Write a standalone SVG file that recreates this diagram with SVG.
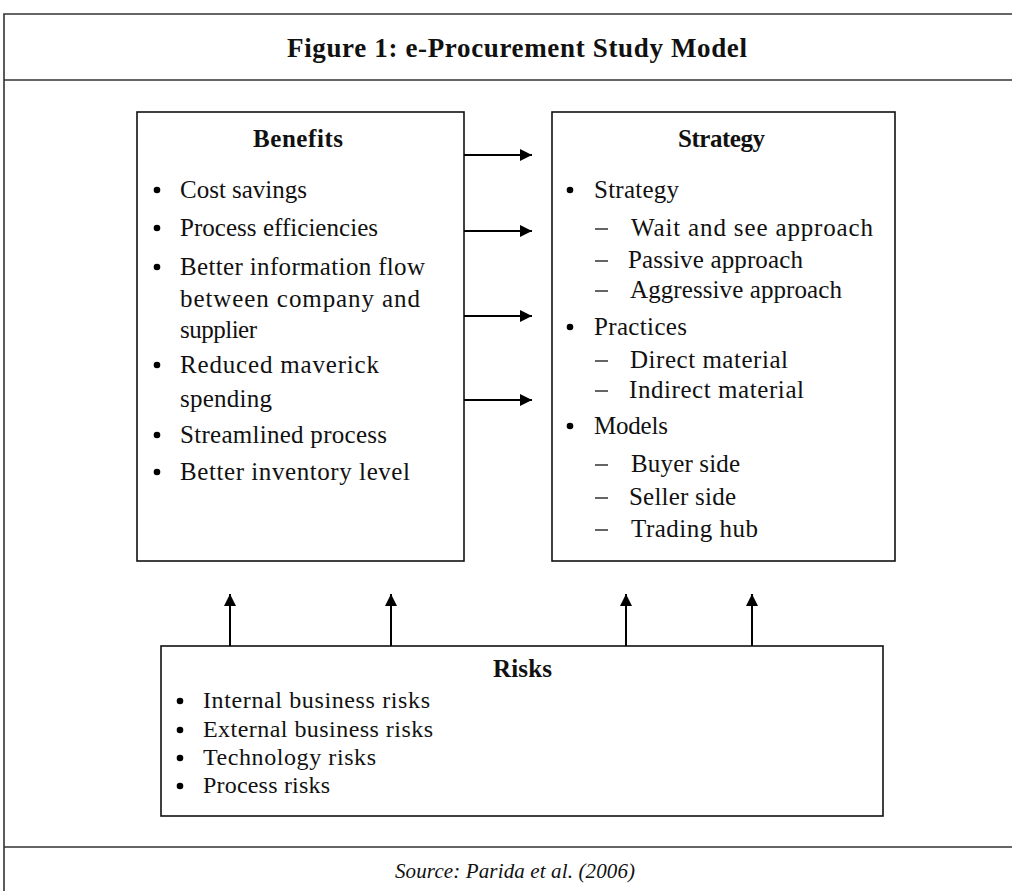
<svg xmlns="http://www.w3.org/2000/svg" width="1012" height="891" viewBox="0 0 1012 891">
<style>
  text { font-family: "Liberation Serif", "Times New Roman", serif; fill: #111; }
  .t { font-size: 25px; }
  .r { font-size: 24px; }
  .h { font-size: 25px; font-weight: bold; }
  .title { font-size: 27px; font-weight: bold; }
  .src { font-size: 21px; font-style: italic; }
  .box { fill: #fff; stroke: #111; stroke-width: 1.6; }
  .frame { fill: none; stroke: #333; stroke-width: 1.6; }
  .conn { stroke: #000; stroke-width: 2; fill: none; }
  .bul { fill: #000; }
  .dash { stroke: #111; stroke-width: 1.3; }
</style>
<defs>
  <marker id="ah" viewBox="0 0 10 10" refX="10" refY="5" markerWidth="6.5" markerHeight="6" orient="auto" markerUnits="strokeWidth">
    <path d="M0,0 L10,5 L0,10 z" fill="#000"/>
  </marker>
</defs>
<rect width="1012" height="891" fill="#fff"/>

<g id="frame">
  <path class="frame" d="M4,891 V14 H1013 M4,80 H1013 M4,847 H1013"/>
  <text class="title" x="287" y="57" textLength="460" lengthAdjust="spacing">Figure 1: e-Procurement Study Model</text>
  <text class="src" x="395" y="878" textLength="240" lengthAdjust="spacing">Source: Parida et al. (2006)</text>
</g>

<g id="benefits">
  <rect class="box" x="137" y="112" width="327" height="449"/>
  <text class="h" x="253" y="147" textLength="90" lengthAdjust="spacing">Benefits</text>
  <circle class="bul" cx="157" cy="190" r="3.3"/>
  <text class="t" x="180" y="198" textLength="127" lengthAdjust="spacing">Cost savings</text>
  <circle class="bul" cx="157" cy="228" r="3.3"/>
  <text class="t" x="180" y="236" textLength="198" lengthAdjust="spacing">Process efficiencies</text>
  <circle class="bul" cx="157" cy="267" r="3.3"/>
  <text class="t" x="180" y="275" textLength="245" lengthAdjust="spacing">Better information flow</text>
  <text class="t" x="180" y="307" textLength="240" lengthAdjust="spacing">between company and</text>
  <text class="t" x="180" y="338" textLength="77" lengthAdjust="spacing">supplier</text>
  <circle class="bul" cx="157" cy="365" r="3.3"/>
  <text class="t" x="180" y="373" textLength="199" lengthAdjust="spacing">Reduced maverick</text>
  <text class="t" x="180" y="407" textLength="92" lengthAdjust="spacing">spending</text>
  <circle class="bul" cx="157" cy="435" r="3.3"/>
  <text class="t" x="180" y="443" textLength="207" lengthAdjust="spacing">Streamlined process</text>
  <circle class="bul" cx="157" cy="472" r="3.3"/>
  <text class="t" x="180" y="480" textLength="230" lengthAdjust="spacing">Better inventory level</text>
</g>

<g id="strategy">
  <rect class="box" x="552" y="112" width="343" height="449"/>
  <text class="h" x="678" y="147" textLength="87" lengthAdjust="spacing">Strategy</text>
  <circle class="bul" cx="570" cy="190" r="3.3"/>
  <text class="t" x="594" y="198" textLength="85" lengthAdjust="spacing">Strategy</text>
  <line class="dash" x1="595" y1="229" x2="608" y2="229"/>
  <text class="t" x="631" y="236" textLength="242" lengthAdjust="spacing">Wait and see approach</text>
  <line class="dash" x1="595" y1="261" x2="608" y2="261"/>
  <text class="t" x="628" y="268" textLength="175" lengthAdjust="spacing">Passive approach</text>
  <line class="dash" x1="595" y1="291" x2="608" y2="291"/>
  <text class="t" x="630" y="298" textLength="212" lengthAdjust="spacing">Aggressive approach</text>
  <circle class="bul" cx="570" cy="327" r="3.3"/>
  <text class="t" x="594" y="335" textLength="93" lengthAdjust="spacing">Practices</text>
  <line class="dash" x1="595" y1="361" x2="608" y2="361"/>
  <text class="t" x="630" y="368" textLength="158" lengthAdjust="spacing">Direct material</text>
  <line class="dash" x1="595" y1="391" x2="608" y2="391"/>
  <text class="t" x="629" y="398" textLength="175" lengthAdjust="spacing">Indirect material</text>
  <circle class="bul" cx="570" cy="426" r="3.3"/>
  <text class="t" x="594" y="434" textLength="74" lengthAdjust="spacing">Models</text>
  <line class="dash" x1="595" y1="465" x2="608" y2="465"/>
  <text class="t" x="631" y="472" textLength="109" lengthAdjust="spacing">Buyer side</text>
  <line class="dash" x1="595" y1="498" x2="608" y2="498"/>
  <text class="t" x="629" y="505" textLength="107" lengthAdjust="spacing">Seller side</text>
  <line class="dash" x1="595" y1="530" x2="608" y2="530"/>
  <text class="t" x="631" y="537" textLength="127" lengthAdjust="spacing">Trading hub</text>
</g>

<g id="risks">
  <rect class="box" x="161" y="646" width="722" height="170"/>
  <text class="h" x="493" y="677" textLength="59" lengthAdjust="spacing">Risks</text>
  <circle class="bul" cx="180" cy="701" r="3.3"/>
  <text class="r" x="203" y="708" textLength="227" lengthAdjust="spacing">Internal business risks</text>
  <circle class="bul" cx="180" cy="730" r="3.3"/>
  <text class="r" x="203" y="737" textLength="230" lengthAdjust="spacing">External business risks</text>
  <circle class="bul" cx="180" cy="758" r="3.3"/>
  <text class="r" x="203" y="765" textLength="173" lengthAdjust="spacing">Technology risks</text>
  <circle class="bul" cx="180" cy="786" r="3.3"/>
  <text class="r" x="203" y="793" textLength="127" lengthAdjust="spacing">Process risks</text>
</g>

<g id="connectors">
  <line class="conn" x1="464" y1="155" x2="532" y2="155" marker-end="url(#ah)"/>
  <line class="conn" x1="464" y1="231" x2="532" y2="231" marker-end="url(#ah)"/>
  <line class="conn" x1="464" y1="316" x2="532" y2="316" marker-end="url(#ah)"/>
  <line class="conn" x1="464" y1="400" x2="532" y2="400" marker-end="url(#ah)"/>
  <line class="conn" x1="230" y1="646" x2="230" y2="594" marker-end="url(#ah)"/>
  <line class="conn" x1="391" y1="646" x2="391" y2="594" marker-end="url(#ah)"/>
  <line class="conn" x1="626" y1="646" x2="626" y2="594" marker-end="url(#ah)"/>
  <line class="conn" x1="752" y1="646" x2="752" y2="594" marker-end="url(#ah)"/>
</g>
</svg>
